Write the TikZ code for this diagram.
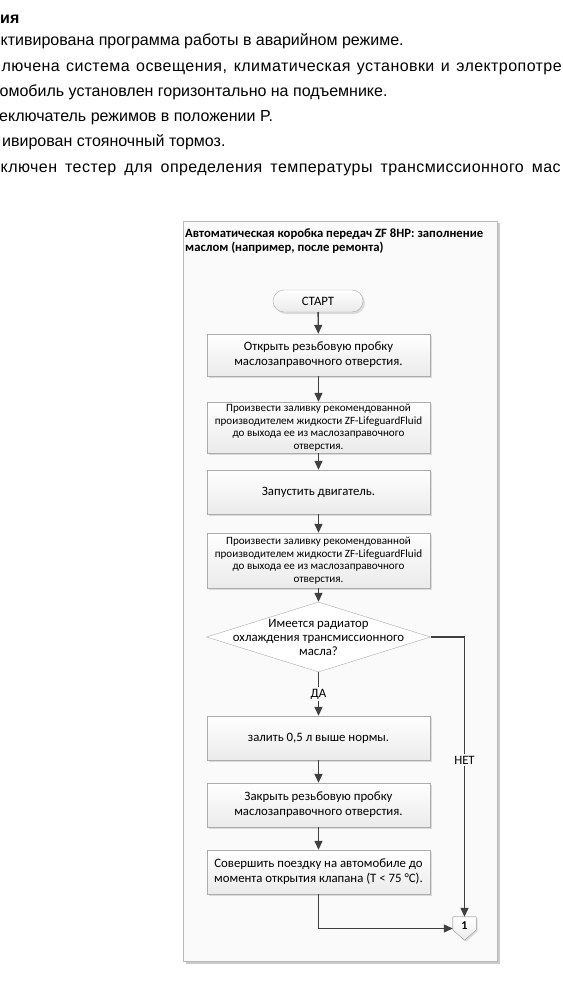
\documentclass[tikz,border=0pt]{standalone}
\usepackage{fontspec}
\setmainfont{Liberation Sans}
\newfontfamily\visiofont{Carlito}
\usetikzlibrary{arrows.meta, positioning, shapes.geometric, shadows, calc}

\begin{document}
\begin{tikzpicture}[x=1pt, y=-1pt,
  every node/.style={inner sep=0pt},
  note/.style={anchor=base west, font=\fontsize{16}{19}\selectfont},
  frame/.style={draw=gray!55, fill=gray!4,
    drop shadow={shadow xshift=2.5pt, shadow yshift=-2.5pt, fill=gray!70, opacity=0.6}},
  proc/.style={draw=gray!65, top color=white, bottom color=gray!16,
    minimum width=223pt, align=center, font=\visiofont\fontsize{12.8}{15}\selectfont,
    drop shadow={shadow xshift=2pt, shadow yshift=-2pt, opacity=0.25}},
  dense/.style={font=\visiofont\fontsize{11.1}{12.6}\selectfont},
  decision/.style={diamond, draw=gray!65, fill=white, minimum width=224pt, minimum height=70pt},
  flow/.style={draw=black!75, line width=1.3pt, -{Triangle[length=9pt, width=8pt]}},
  tag/.style={fill=gray!4, inner sep=2pt, font=\visiofont\fontsize{12.8}{15}\selectfont}
]
  \useasboundingbox (0,0) rectangle (562,1000);
  \clip (0,0) rectangle (562,1000);

  % conditions above the chart
  \node[note, font=\bfseries\fontsize{16}{19}\selectfont] (head) at (0,24) {ия};
  \foreach \x/\y/\txt [count=\i] in {
    0.5/46/{ктивирована программа работы в аварийном режиме.},
    -0.5/97/{омобиль установлен горизонтально на подъемнике.},
    -1/122/{еключатель режимов в положении P.},
    2/147/{ивирован стояночный тормоз.}}
    \node[note] (note\i) at (\x,\y) {\txt};
  % wrapped lines are justified
  \node[note] (wrap1) at (1.5,72) {\addfontfeature{LetterSpace=2.7}\makebox[560pt][s]{лючена система освещения, климатическая установки и электропотре}};
  \node[note] (wrap2) at (0.5,173) {\addfontfeature{LetterSpace=2.7}\makebox[560pt][s]{ключен тестер для определения температуры трансмиссионного мас}};

  % chart
  \draw[frame] (183,221) rectangle (497,961);
  \node[anchor=north west, align=left, font=\visiofont\bfseries\fontsize{12.7}{14.5}\selectfont] (title) at (185,228.5)
    {Автоматическая коробка передач ZF 8HP: заполнение\\маслом (например, после ремонта)};

  \node[proc, rounded corners=11pt, minimum width=90pt, minimum height=22pt] (start) at (318,301) {СТАРТ};
  \node[proc, minimum height=42pt] (open) at (318.5,355) {Открыть резьбовую пробку\\маслозаправочного отверстия.};
  \node[proc, dense, minimum height=51pt] (fill1) at (318.5,427.5) {Произвести заливку рекомендованной\\производителем жидкости ZF-LifeguardFluid\\до выхода ее из маслозаправочного\\отверстия.};
  \node[proc, minimum height=44pt] (engine) at (318.5,492) {Запустить двигатель.};
  \node[proc, dense, minimum height=55pt] (fill2) at (318.5,560.5) {Произвести заливку рекомендованной\\производителем жидкости ZF-LifeguardFluid\\до выхода ее из маслозаправочного\\отверстия.};
  \node[decision] (radiator) at (318.5,637) {};
  \node[align=center, font=\visiofont\fontsize{12.8}{14}\selectfont] (ask) at (radiator) {Имеется радиатор\\охлаждения трансмиссионного\\масла?};
  \node[proc, minimum height=44pt] (add) at (318.5,738) {залить 0,5 л выше нормы.};
  \node[proc, minimum height=44pt] (close) at (318.5,805) {Закрыть резьбовую пробку\\маслозаправочного отверстия.};
  \node[proc, minimum height=44pt] (drive) at (318.5,872) {Совершить поездку на автомобиле до\\момента открытия клапана (T < 75 °C).};

  \node[minimum width=23pt, minimum height=23pt] (conn) at (464.5,928.5) {};
  \filldraw[draw=gray!65, top color=white, bottom color=gray!16,
    drop shadow={shadow xshift=1.5pt, shadow yshift=-1.5pt, opacity=0.25}]
    (conn.north west) -- (conn.north east) -- ($(conn.north east)+(0,13)$)
    -- (conn.south) -- ($(conn.north west)+(0,13)$) -- cycle;
  \node[font=\visiofont\bfseries\fontsize{12}{14}\selectfont] (one) at ($(conn.center)+(0,-3)$) {1};

  \draw[flow] (start) -- (open);
  \foreach \a/\b in {open/fill1, fill1/engine, engine/fill2, fill2/radiator, add/close, close/drive}
    \draw[flow] (\a) -- (\b);
  \draw[flow] (radiator) -- node[tag] (yes) {ДА} (add);
  \draw[flow] (radiator.east) -| node[tag, pos=0.72] (no) {НЕТ} (conn.north);
  \draw[flow] (drive) |- (conn.west);
\end{tikzpicture}
\end{document}
